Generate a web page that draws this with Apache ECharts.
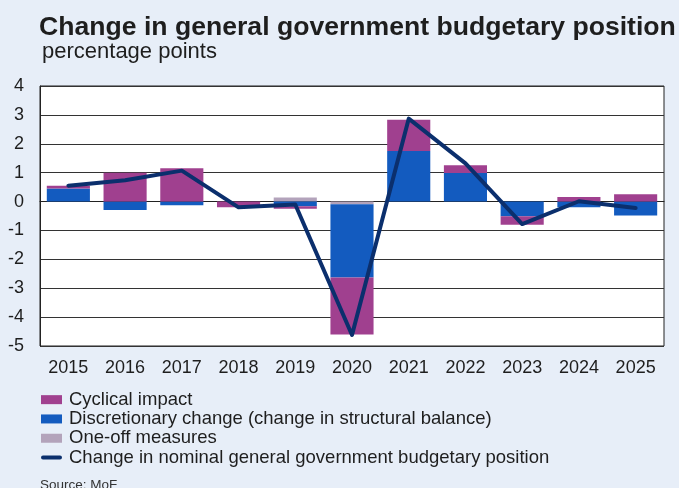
<!DOCTYPE html>
<html>
<head>
<meta charset="utf-8">
<script src="https://cdn.jsdelivr.net/npm/echarts@6/dist/echarts.min.js"></script>
<style>
  html, body { margin: 0; padding: 0; background: #e7eef8; }
  #chart { width: 679px; height: 488px; }
</style>
</head>
<body>
<div id="chart"></div>
<script>
// Years on the category axis
const years = ['2015', '2016', '2017', '2018', '2019', '2020', '2021', '2022', '2023', '2024', '2025'];

// Components of the change, percentage points
const cyclicalImpact = [0.10, 1.00, 1.15, -0.20, -0.09, -1.97, 1.08, 0.27, -0.29, 0.16, 0.25];
const discretionaryChange = [0.45, -0.29, -0.13, 0.00, -0.16, -2.54, 1.75, 0.99, -0.51, -0.20, -0.48];
const oneOffMeasures = [0.00, 0.00, 0.00, 0.00, 0.14, -0.09, 0.00, 0.00, 0.00, 0.00, 0.00];

// Change in the nominal budgetary position
const nominalChange = [0.55, 0.74, 1.07, -0.20, -0.10, -4.62, 2.87, 1.32, -0.78, 0.01, -0.22];

// Value axis ticks
const yMin = -5, yMax = 4, yStep = 1;

const FONT = '"Liberation Sans", Arial, sans-serif';
const names = {
  cyc: 'Cyclical impact',
  disc: 'Discretionary change (change in structural balance)',
  one: 'One-off measures',
  nom: 'Change in nominal general government budgetary position'
};

// Short thick rounded stroke used as the legend key of the line
const lineKey = 'path://M2 0 H19 A2 2 0 0 1 19 4 H2 A2 2 0 0 1 2 0 Z';

const chart = echarts.init(document.getElementById('chart'), null, { renderer: 'canvas' });

chart.setOption({
  backgroundColor: '#e7eef8',
  animation: false,
  textStyle: { fontFamily: FONT },
  title: {
    text: 'Change in general government budgetary position',
    left: 39,
    top: 14,
    padding: 0,
    textStyle: { fontFamily: FONT, fontSize: 26.6, fontWeight: 'bold', color: '#1e1e1e' }
  },
  grid: {
    left: 40, right: 15, top: 86, bottom: 142,
    show: true,
    backgroundColor: '#ffffff',
    borderColor: '#222222',
    borderWidth: 1
  },
  legend: {
    orient: 'vertical',
    left: 41,
    top: 390,
    itemGap: 0,
    itemWidth: 21,
    itemHeight: 9,
    padding: 0,
    textStyle: { fontFamily: FONT, fontSize: 18.5, lineHeight: 19.3, color: '#1e1e1e', padding: [0, 0, 0, 2] },
    data: [
      { name: names.cyc, icon: 'rect' },
      { name: names.disc, icon: 'rect' },
      { name: names.one, icon: 'rect' },
      { name: names.nom, icon: lineKey }
    ]
  },
  graphic: [
    {
      type: 'text',
      left: 42,
      top: 41,
      style: { text: 'percentage points', font: '22px ' + FONT, fill: '#1e1e1e' }
    },
    {
      type: 'text',
      left: 40,
      top: 478,
      style: { text: 'Source: MoF', font: '13.5px ' + FONT, fill: '#333333' }
    }
  ],
  xAxis: {
    type: 'category',
    data: years,
    axisLine: { show: true, lineStyle: { color: '#222222' } },
    axisTick: { show: false },
    axisLabel: { fontFamily: FONT, fontSize: 18, color: '#1e1e1e', margin: 13 }
  },
  yAxis: {
    type: 'value',
    min: yMin,
    max: yMax,
    interval: yStep,
    axisLine: { show: true, lineStyle: { color: '#222222' } },
    axisTick: { show: false },
    axisLabel: { fontFamily: FONT, fontSize: 18, color: '#1e1e1e', margin: 16 },
    splitLine: { show: true, lineStyle: { color: '#333333', width: 1 } }
  },
  series: [
    {
      name: names.one,
      type: 'bar',
      stack: 'parts',
      barWidth: '76%',
      data: oneOffMeasures,
      itemStyle: { color: '#b3a3bb' }
    },
    {
      name: names.disc,
      type: 'bar',
      stack: 'parts',
      barWidth: '76%',
      data: discretionaryChange,
      itemStyle: { color: '#135bbf' }
    },
    {
      name: names.cyc,
      type: 'bar',
      stack: 'parts',
      barWidth: '76%',
      data: cyclicalImpact,
      itemStyle: { color: '#a0408f' }
    },
    {
      name: names.nom,
      type: 'line',
      data: nominalChange,
      symbol: 'none',
      z: 5,
      lineStyle: { color: '#0b2f6d', width: 4, cap: 'round', join: 'round' },
      itemStyle: { color: '#0b2f6d' }
    }
  ]
});
</script>
</body>
</html>
